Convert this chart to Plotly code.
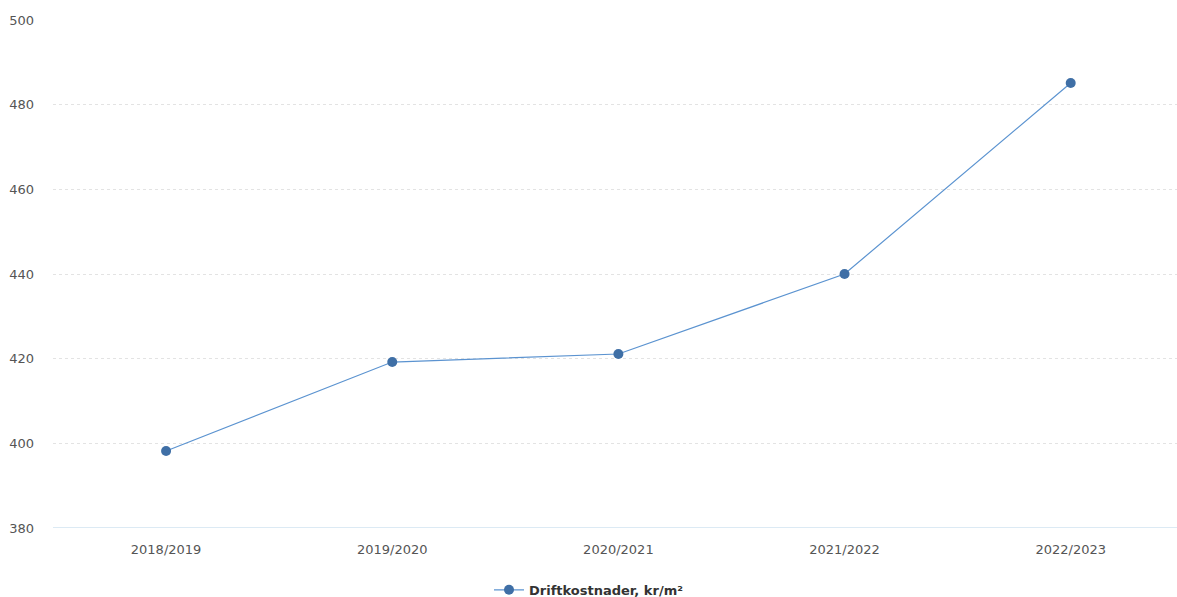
import plotly.graph_objects as go

categories = ["2018/2019", "2019/2020", "2020/2021", "2021/2022", "2022/2023"]
values = [398.2, 419.2, 421.1, 440.0, 485.1]
series_name = "<b>Driftkostnader, kr/m²</b>"

fig = go.Figure()
fig.add_trace(go.Scatter(
    x=categories, y=values, mode="lines+markers", name=series_name,
    line=dict(color="#5b93d0", width=1.2),
    marker=dict(color="#3f6fa6", size=10),
))
fig.update_layout(
    width=1177, height=597,
    margin=dict(l=53, r=0, t=20, b=69, autoexpand=False),
    paper_bgcolor="white", plot_bgcolor="white",
    font=dict(family="DejaVu Sans, sans-serif", color="#555555", size=13),
    showlegend=True,
    legend=dict(orientation="h", x=0.5, xanchor="center", xref="container",
                yref="container", y=0.012, yanchor="middle",
                font=dict(size=13, color="#333333")),
    xaxis=dict(type="category", range=[-0.5, 4.47], showgrid=False, zeroline=False,
               showline=False, ticks="", ticklabelstandoff=12,
               tickfont=dict(size=13, color="#555555")),
    yaxis=dict(range=[380, 500], dtick=20, showgrid=True, gridcolor="#e3e3e3",
               griddash="dot", zeroline=False, showline=False, ticks="",
               ticklabelstandoff=18, tickfont=dict(size=13, color="#555555")),
)
fig.add_shape(type="line", xref="paper", yref="y", x0=0, x1=1, y0=380, y1=380,
              layer="above", line=dict(color="#b8d4e8", width=1))
fig.write_html("out.html")
